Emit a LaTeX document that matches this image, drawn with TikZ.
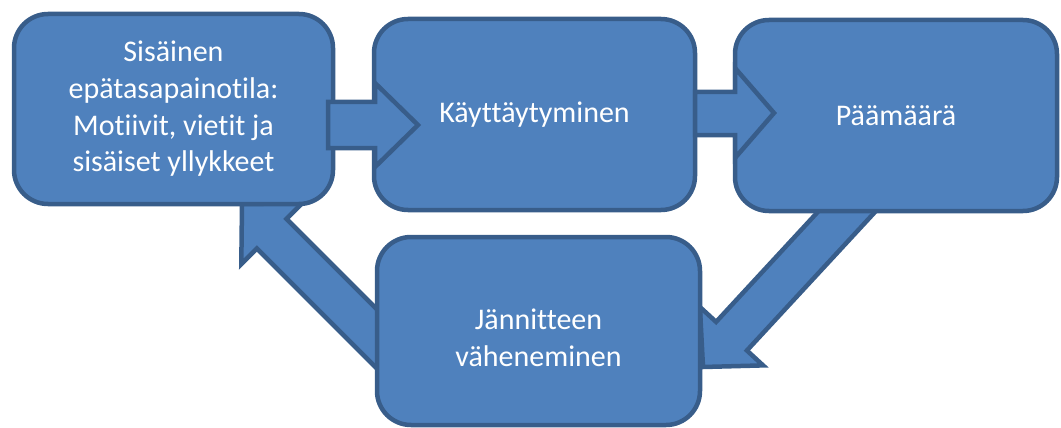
\documentclass[tikz,border=0pt]{standalone}
\usepackage{fontspec}
\setmainfont{Carlito}[RawFeature=-liga]
\definecolor{boxfill}{HTML}{4F81BD}
\definecolor{boxline}{HTML}{385D8A}
\tikzset{
  boxtext/.style={text=white, align=center, inner sep=0pt,
    font=\fontsize{30}{36.7}\selectfont},
  box/.style={boxtext, draw=boxline, fill=boxfill, line width=4.5pt, rounded corners=34pt},
  blockarrow/.style={draw=boxline, fill=boxfill, line width=4.5pt, line join=miter}
}
\begin{document}
\begin{tikzpicture}[x=1pt,y=-1pt]
\useasboundingbox (0,0) rectangle (1061,428);
% diagonal block arrows (behind the boxes)
\draw[blockarrow] (846.5,180.9) -- (877.3,209.5) -- (746.9,350.5) -- (763.1,365.4)
  -- (703,367) -- (699.9,307) -- (716.1,321.9) -- cycle;
\draw[blockarrow] (414.5,346.9) -- (384.9,376.5) -- (256.9,248.5) -- (241.3,264.1)
  -- (242,204) -- (302.1,203.3) -- (286.5,218.9) -- cycle;
% boxes
\node[box, minimum width=319pt, minimum height=190pt] (b1) at (173.5,109)
  {Sisäinen\\epätasapainotila:\\Motiivit, vietit ja\\sisäiset yllykkeet};
\node[box, minimum width=321pt, minimum height=191pt] (b2) at (534.5,114.5) {Käyttäytyminen};
\node[box, minimum width=322pt, minimum height=191pt] (b3) at (896,115.5) {Päämäärä};
\node[box, minimum width=323pt, minimum height=188pt] (b4) at (538.5,331) {};
\node[boxtext] (t4) at ([yshift=-7pt]b4.center) {Jännitteen\\väheneminen};
% horizontal block arrows (in front of the boxes)
\draw[blockarrow] (328,102) -- (375,102) -- (375,83) -- (418,125) -- (375,167)
  -- (375,148) -- (328,148) -- cycle;
\draw[blockarrow] (695,92) -- (735,92) -- (735,68) -- (774,113) -- (735,158)
  -- (735,135) -- (695,135) -- cycle;
\end{tikzpicture}
\end{document}
